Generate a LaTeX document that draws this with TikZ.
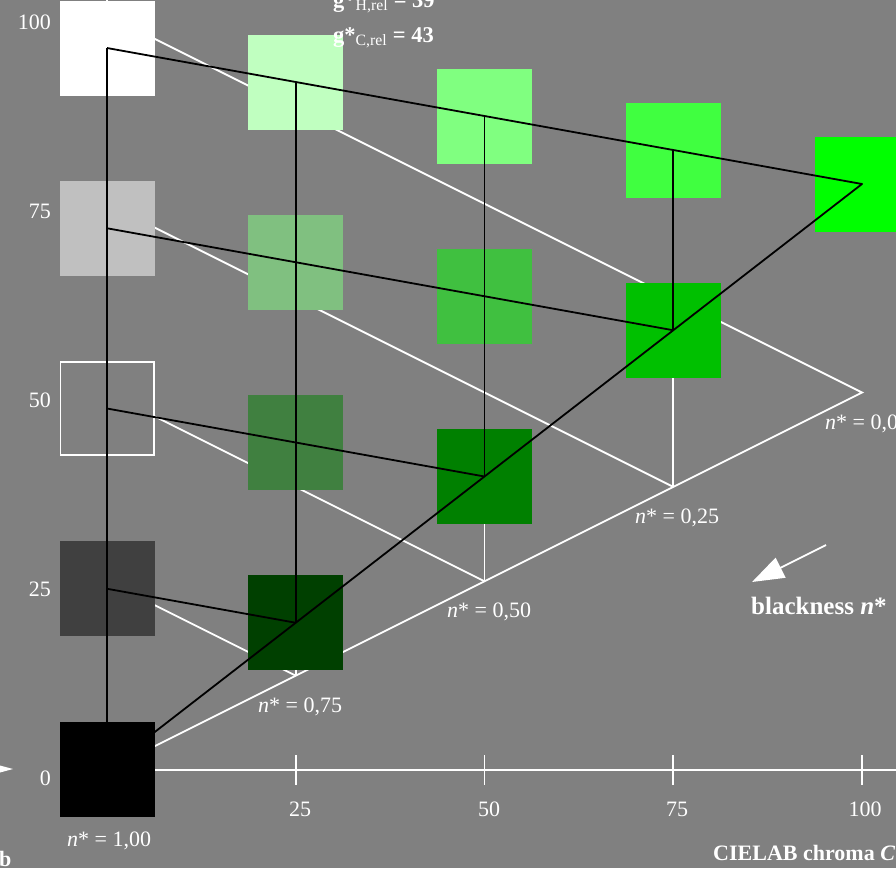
\documentclass[tikz,border=0pt]{standalone}
\usepackage{fontspec}
\setmainfont{Liberation Serif}
\usetikzlibrary{arrows.meta}
\definecolor{bg}{RGB}{128,128,128}
\definecolor{c00}{RGB}{255,255,255}
\definecolor{c01}{RGB}{192,192,192}
\definecolor{c02}{RGB}{128,128,128}
\definecolor{c03}{RGB}{64,64,64}
\definecolor{c04}{RGB}{0,0,0}
\definecolor{c10}{RGB}{192,255,192}
\definecolor{c11}{RGB}{128,192,128}
\definecolor{c12}{RGB}{64,128,64}
\definecolor{c13}{RGB}{0,64,0}
\definecolor{c20}{RGB}{128,255,128}
\definecolor{c21}{RGB}{64,192,64}
\definecolor{c22}{RGB}{0,128,0}
\definecolor{c30}{RGB}{64,255,64}
\definecolor{c31}{RGB}{0,192,0}
\definecolor{c40}{RGB}{0,255,0}
\begin{document}
\begin{tikzpicture}[x=1pt,y=-1pt,
  wline/.style={white,line width=1.8pt},
  bline/.style={black,line width=1.8pt,line join=round},
  sq/.style={minimum size=95pt,inner sep=0pt,outer sep=0pt,draw=none},
  lab/.style={text=white,font=\fontsize{22}{26}\selectfont,inner sep=0pt},
  blab/.style={text=white,font=\fontsize{22}{26}\selectfont\bfseries,inner sep=0pt},
  tlab/.style={text=white,font=\fontsize{22.5}{26}\selectfont,inner sep=0pt}]
\path[use as bounding box,fill=bg] (0,0) rectangle (896,868);
\clip (0,0) rectangle (896,868);
% grid coordinates
\foreach \i in {0,...,4} {
  \pgfmathtruncatemacro\jm{4-\i}
  \foreach \j in {0,...,\jm} {
    \coordinate (P\i\j) at ({107+188.75*\i},{48+34*\i+180.25*\j});
    \coordinate (Q\i\j) at ({107+188.75*\i},{15+94.375*\i+188.75*\j});
  }
}
% white axes and reference triangle
\coordinate (ytop) at (107,-5);
\coordinate (xend) at (900,770);
\draw[wline] (ytop) -- (Q04) -- (xend);
\foreach \i/\x in {1/295.75,2/484.5,3/673.25,4/862} {
  \coordinate (ta\i) at (\x,755);
  \coordinate (tb\i) at (\x,785);
  \draw[wline] (ta\i) -- (tb\i);
}
\draw[wline] (Q00) -- (Q40) -- (Q04);
\draw[wline] (Q01) -- (Q31);
\draw[wline] (Q02) -- (Q22);
\draw[wline] (Q03) -- (Q13);
\draw[wline] (Q10) -- (Q13);
\draw[wline] (Q20) -- (Q22);
\draw[wline] (Q30) -- (Q31);
% squares
\foreach \i in {0,...,4} {
  \pgfmathtruncatemacro\jm{4-\i}
  \foreach \j in {0,...,\jm} {
    \node[sq,fill=c\i\j] (S\i\j) at (P\i\j) {};
  }
}
\node[sq,fill=bg,draw=white,line width=1.6pt,minimum size=93.4pt] (S02b) at (P02) {};
% black measured triangle
\draw[bline] (P00) -- (P04);
\draw[bline] (P00) -- (P40) -- (P04);
\draw[bline] (P01) -- (P31);
\draw[bline] (P02) -- (P22);
\draw[bline] (P03) -- (P13);
\draw[bline] (P10) -- (P13);
\draw[bline] (P20) -- (P22);
\draw[bline] (P30) -- (P31);
% axis labels
\node[lab,anchor=base east] (y100) at (51,29) {100};
\node[lab,anchor=base east] (y75) at (51,218) {75};
\node[lab,anchor=base east] (y50) at (51,407) {50};
\node[lab,anchor=base east] (y25) at (51,596) {25};
\node[lab,anchor=base east] (y0) at (51,785) {0};
\node[lab,anchor=base] (x25) at (300,816) {25};
\node[lab,anchor=base] (x50) at (489,816) {50};
\node[lab,anchor=base] (x75) at (677,816) {75};
\node[lab,anchor=base] (x100) at (865,816) {100};
% blackness labels
\node[lab,anchor=base west] (n100) at (67,846) {\textit{n}* = 1,00};
\node[lab,anchor=base west] (n075) at (258,712) {\textit{n}* = 0,75};
\node[lab,anchor=base west] (n050) at (447,617) {\textit{n}* = 0,50};
\node[lab,anchor=base west] (n025) at (635,523) {\textit{n}* = 0,25};
\node[lab,anchor=base west] (n000) at (825,429) {\textit{n}* = 0,00};
% arrow and titles
\coordinate (ar1) at (826,545);
\coordinate (ar2) at (752,582);
\draw[white,line width=1.8pt,-{Triangle[length=32pt,width=22pt]}] (ar1) -- (ar2);
\node[blab,anchor=base west,font=\fontsize{25}{28}\selectfont\bfseries] (blk) at (751,614) {blackness \textit{n}*};
\node[blab,anchor=base west] (cie) at (713,860) {CIELAB chroma \textit{C}*\textsubscript{ab}};
\node[blab,anchor=base west] (bb) at (-1,866) {b};
\node[tlab,anchor=base west] (gh) at (333,7) {\textbf{g*}\textsubscript{H,rel}\textbf{ = 39}};
\node[tlab,anchor=base west] (gc) at (333,42) {\textbf{g*}\textsubscript{C,rel}\textbf{ = 43}};
\fill[white] (0,765.5) -- (13,769) -- (0,772.5) -- cycle;
\end{tikzpicture}
\end{document}
